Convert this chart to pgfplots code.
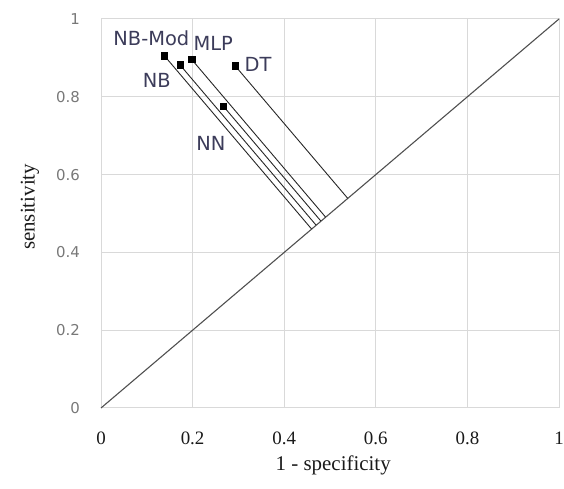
\documentclass[border=0pt]{standalone}
\usepackage{pgfplots}
\pgfplotsset{compat=1.18}
\usepackage{fontspec}
\setmainfont{Liberation Serif}
\newfontfamily\dejavu{DejaVu Sans}
\definecolor{gridc}{HTML}{D9D9D9}
\definecolor{ytickc}{HTML}{787878}
\definecolor{xtickc}{HTML}{1A1A1A}
\definecolor{labc}{HTML}{3C3C5A}
\definecolor{linec}{HTML}{262626}
\definecolor{diagc}{HTML}{505050}
\begin{document}
\begin{tikzpicture}
\useasboundingbox (0,0) rectangle (564bp,489bp);
\begin{axis}[
  at={(101bp,81bp)}, anchor=south west,
  scale only axis, width=458bp, height=389bp,
  xmin=0, xmax=1, ymin=0, ymax=1,
  xtick={0,0.2,0.4,0.6,0.8,1},
  ytick={0,0.2,0.4,0.6,0.8,1},
  major tick length=0pt,
  grid=major,
  grid style={gridc, line width=1bp},
  axis line style={gridc, line width=1bp},
  /pgf/number format/assume math mode=true,
  xticklabel style={inner sep=0pt, anchor=north, yshift=-24bp, font=\fontsize{19}{19}\selectfont, text=xtickc},
  yticklabel style={inner sep=0pt, anchor=east, xshift=-21bp, font=\dejavu\fontsize{15}{15}\selectfont, text=ytickc},
  xlabel={1 - specificity},
  ylabel={sensitivity},
  xlabel style={at={(axis description cs:0.507,0)}, anchor=center, yshift=-57bp, font=\fontsize{21}{21}\selectfont, text=xtickc},
  ylabel style={at={(axis description cs:0,0.517)}, anchor=center, yshift=71bp, font=\fontsize{21}{21}\selectfont, text=xtickc},
  clip=false,
]
\addplot[diagc, line width=1.1bp] coordinates {(0,0) (1,1)};
\addplot[linec, line width=0.9bp] coordinates {(0.138,0.906) (0.4599,0.4599)};
\addplot[linec, line width=0.9bp] coordinates {(0.1725,0.882) (0.4698,0.4698)};
\addplot[linec, line width=0.9bp] coordinates {(0.198,0.896) (0.4905,0.4905)};
\addplot[linec, line width=0.9bp] coordinates {(0.267,0.776) (0.4803,0.4803)};
\addplot[linec, line width=0.9bp] coordinates {(0.2926,0.880) (0.5388,0.5388)};
\addplot[only marks, mark=square*, mark size=3.2bp, black] coordinates {
  (0.138,0.906) (0.1725,0.882) (0.198,0.896) (0.267,0.776) (0.2926,0.880)};
\node[font=\dejavu\fontsize{19.5}{19.5}\selectfont, text=labc, inner sep=0pt] at (axis cs:0.110,0.951) {NB-Mod};
\node[font=\dejavu\fontsize{19.5}{19.5}\selectfont, text=labc, inner sep=0pt] at (axis cs:0.245,0.936) {MLP};
\node[font=\dejavu\fontsize{19.5}{19.5}\selectfont, text=labc, inner sep=0pt] at (axis cs:0.343,0.884) {DT};
\node[font=\dejavu\fontsize{19.5}{19.5}\selectfont, text=labc, inner sep=0pt] at (axis cs:0.1216,0.841) {NB};
\node[font=\dejavu\fontsize{19.5}{19.5}\selectfont, text=labc, inner sep=0pt] at (axis cs:0.240,0.681) {NN};
\end{axis}
\end{tikzpicture}
\end{document}
